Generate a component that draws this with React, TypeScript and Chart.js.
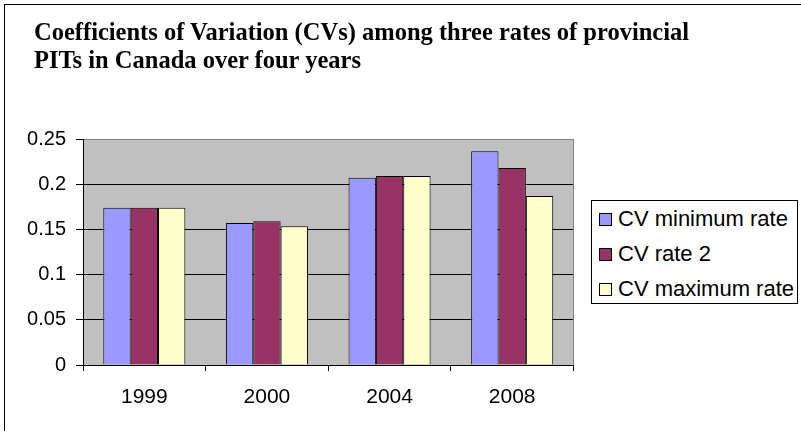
import React, { useEffect, useRef } from "react";
import { Chart, registerables } from "chart.js";

Chart.register(...registerables);

const categories = ["1999", "2000", "2004", "2008"];
const seriesNames = ["CV minimum rate", "CV rate 2", "CV maximum rate"];
const cvMinimumRate = [0.174, 0.157, 0.207, 0.2365];
const cvRate2 = [0.174, 0.159, 0.209, 0.218];
const cvMaximumRate = [0.174, 0.1535, 0.209, 0.187];
const seriesColors = ["#9999FF", "#993366", "#FFFFCC"];
const yTickValues = [0, 0.05, 0.1, 0.15, 0.2, 0.25];
const titleLines = [
  "Coefficients of Variation (CVs) among three rates of provincial",
  "PITs in Canada over four years",
];

const SANS = "'Liberation Sans', Arial, sans-serif";
const SERIF = "'Liberation Serif', 'Times New Roman', serif";

const plotAreaPlugin = {
  id: "plotArea",
  beforeDraw(chart: any) {
    const { ctx, chartArea: a } = chart;
    ctx.save();
    ctx.fillStyle = "#C0C0C0";
    ctx.fillRect(a.left, a.top, a.right - a.left, a.bottom - a.top);
    ctx.restore();
  },
  beforeDatasetsDraw(chart: any) {
    const { ctx, chartArea: a } = chart;
    ctx.save();
    ctx.strokeStyle = "#808080";
    ctx.lineWidth = 1;
    const x = Math.floor(a.right) + 0.5;
    ctx.beginPath();
    ctx.moveTo(x, Math.floor(a.top));
    ctx.lineTo(x, Math.ceil(a.bottom));
    ctx.stroke();
    ctx.restore();
  },
};

export default function App() {
  const ref = useRef<HTMLCanvasElement>(null);

  useEffect(() => {
    const values = [cvMinimumRate, cvRate2, cvMaximumRate];
    const chart = new Chart(ref.current as HTMLCanvasElement, {
      type: "bar",
      data: {
        labels: categories,
        datasets: seriesNames.map((name, i) => ({
          label: name,
          data: values[i],
          backgroundColor: seriesColors[i],
          borderColor: "#000",
          borderWidth: 1,
          barPercentage: 1,
          categoryPercentage: 0.669,
        })),
      },
      options: {
        responsive: false,
        animation: false,
        devicePixelRatio: 1,
        layout: { padding: { left: 0, right: 227.5, top: 134, bottom: 0 } },
        plugins: {
          legend: { display: false },
          tooltip: { enabled: false },
          title: { display: false },
        },
        scales: {
          x: {
            grid: {
              display: true,
              drawOnChartArea: false,
              drawTicks: true,
              tickLength: 6,
              tickColor: "#000",
              offset: true,
            },
            border: { display: true, color: "#000", width: 1 },
            ticks: {
              color: "#000",
              font: { family: SANS, size: 21 },
              padding: 14,
              maxRotation: 0,
            },
            afterFit: (s: any) => {
              s.height = 66;
            },
          },
          y: {
            min: 0,
            max: 0.25,
            afterBuildTicks: (s: any) => {
              s.ticks = yTickValues.map((v) => ({ value: v }));
            },
            ticks: {
              color: "#000",
              font: { family: SANS, size: 20 },
              padding: 10,
              callback: (v: any) => String(v),
            },
            grid: {
              color: (c: any) =>
                c.tick && c.tick.value >= 0.25 - 1e-9 ? "#808080" : "#000",
              tickColor: "#000",
              tickLength: 7,
              lineWidth: 1,
            },
            border: { display: true, color: "#000", width: 1 },
            afterFit: (s: any) => {
              s.width = 78;
            },
          },
        },
      },
      plugins: [plotAreaPlugin],
    });
    return () => chart.destroy();
  }, []);

  return (
    <div
      style={{
        position: "fixed",
        left: 4,
        top: 4,
        width: 796,
        height: 427,
        borderLeft: "1px solid #000",
        borderTop: "1px solid #000",
        background: "#fff",
        overflow: "hidden",
      }}
    >
      <canvas
        ref={ref}
        width={796}
        height={426}
        style={{ position: "absolute", left: 0, top: 0, display: "block" }}
      />
      <div
        style={{
          position: "absolute",
          left: 29,
          top: 13,
          fontFamily: SERIF,
          fontWeight: "bold",
          fontSize: 24.5,
          lineHeight: "28px",
          color: "#000",
          whiteSpace: "nowrap",
        }}
      >
        {titleLines.map((line) => (
          <div key={line}>{line}</div>
        ))}
      </div>
      <div
        style={{
          position: "absolute",
          left: 586,
          top: 195,
          width: 205,
          height: 102,
          border: "1px solid #000",
          background: "#fff",
          fontFamily: SANS,
          fontSize: 22,
          color: "#000",
        }}
      >
        {seriesNames.map((name, i) => (
          <div
            key={name}
            style={{
              display: "flex",
              alignItems: "center",
              height: 35,
              lineHeight: "35px",
              paddingLeft: 7,
              whiteSpace: "nowrap",
            }}
          >
            <span
              style={{
                display: "inline-block",
                width: 11,
                height: 11,
                border: "1px solid #000",
                background: seriesColors[i],
                marginRight: 6,
                marginTop: 2,
                flex: "none",
              }}
            />
            <span>{name}</span>
          </div>
        ))}
      </div>
    </div>
  );
}
